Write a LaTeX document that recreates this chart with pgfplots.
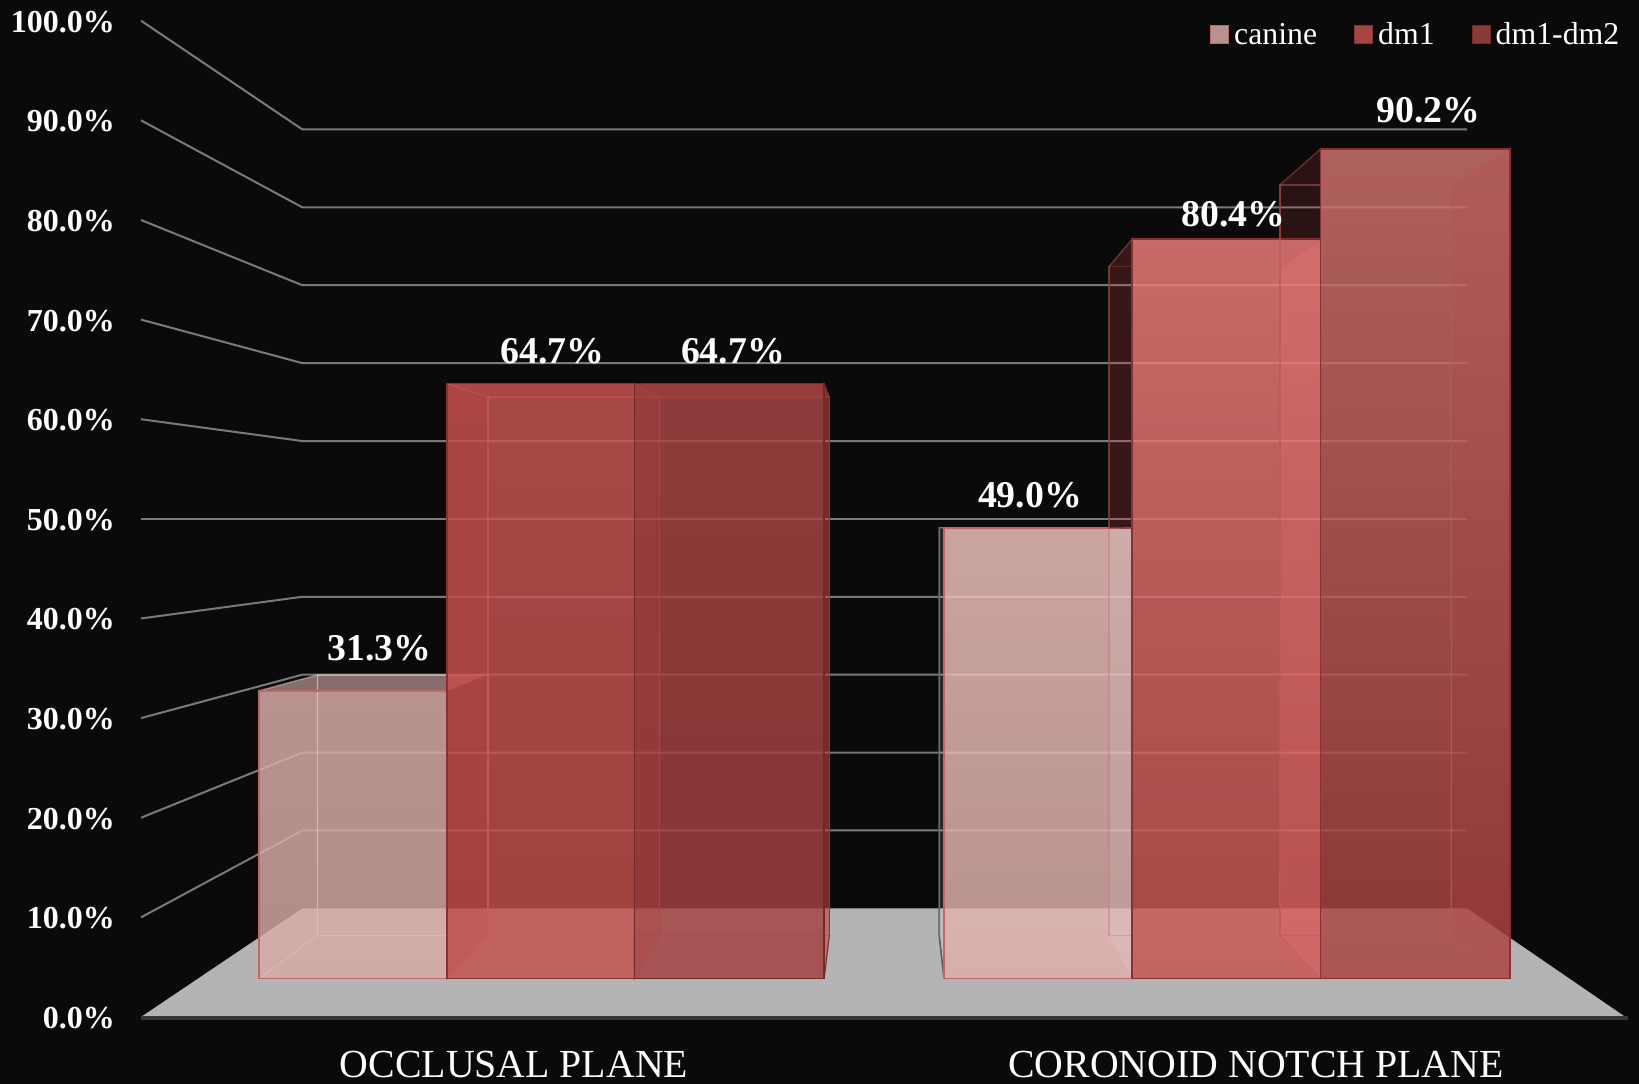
\documentclass[border=0pt]{standalone}
\usepackage{fontspec}
\setmainfont{Liberation Serif}
\usepackage{pgfplots}
\pgfplotsset{compat=1.18}
\definecolor{bg}{HTML}{0A0A0A}
\definecolor{floorc}{HTML}{B4B4B4}
\definecolor{gridc}{HTML}{7A7A7A}
% bar colours (before opacity)
\definecolor{atop}{RGB}{222,176,172}\definecolor{abot}{RGB}{216,170,166}\definecolor{aedge}{HTML}{C2666E}\definecolor{ain}{HTML}{E2C0BE}
\definecolor{btop}{RGB}{203,86,85}\definecolor{bbot}{RGB}{194,79,76}\definecolor{bedge}{HTML}{8A3034}\definecolor{bin}{HTML}{C85A5A}
\definecolor{ctop}{RGB}{171,71,69}\definecolor{cbot}{RGB}{163,65,63}\definecolor{cedge}{HTML}{6E2A2C}\definecolor{cin}{HTML}{A84A4A}
\definecolor{dtop}{RGB}{245,199,195}\definecolor{dbot}{RGB}{222,175,172}\definecolor{dedge}{HTML}{C2666E}\definecolor{din}{HTML}{D8B4B2}
\definecolor{etop}{RGB}{243,128,126}\definecolor{ebot}{RGB}{199,83,81}\definecolor{eedge}{HTML}{8A3034}\definecolor{ein}{HTML}{C85A5A}
\definecolor{ftop}{RGB}{212,117,112}\definecolor{fbot}{RGB}{167,66,63}\definecolor{fedge}{HTML}{8A3034}\definecolor{fin}{HTML}{B85A5A}
\definecolor{sidered}{HTML}{C04040}
% one polygon: rows are x, plane (0 front, 1 back), value
\newcommand\face[2]{\addplot[forget plot,#1] table[x=x,y expr={3.854+4.336*\thisrow{p}+(0.923-0.0879*\thisrow{p})*\thisrow{w}},row sep=\\]{x p w\\ #2} -- cycle;}
% front face: id, x0, x1, value
\newcommand\barfront[4]{\face{draw=none,top color=#1top,bottom color=#1bot,fill opacity=0.82}{#2 0 0\\ #3 0 0\\ #3 0 #4\\ #2 0 #4\\}}
\newcommand\frontedge[4]{\face{draw=#1edge,line width=1.7pt,fill=none}{#2 0 0\\ #3 0 0\\ #3 0 #4\\ #2 0 #4\\}}
% back face outline: opacity, id, bx0, bx1, value
\newcommand\barback[5]{\face{draw=#2in,line width=1.4pt,fill=none,draw opacity=#1}{#3 1 0\\ #4 1 0\\ #4 1 #5\\ #3 1 #5\\}}
% side face: options, back x, front x, value
\newcommand\sideface[4]{\face{#1}{#2 1 #4\\ #3 0 #4\\ #3 0 0\\ #2 1 0\\}}
\newcommand\topface[6]{\face{#1}{#2 0 #6\\ #3 0 #6\\ #5 1 #6\\ #4 1 #6\\}}
\newcommand\vlabel[3]{\node[text=white,font=\fontsize{37.8}{42}\selectfont\bfseries,inner sep=0pt] at (axis cs:#1,#2) {#3\%};}
\begin{document}
\begin{tikzpicture}[x=1pt,y=1pt]
\fill[bg] (0,0) rectangle (1639pt,1084pt);
\useasboundingbox (0,0) rectangle (1639pt,1084pt);
\begin{axis}[
  at={(141pt,67pt)},anchor=south west,
  scale only axis,width=1498pt,height=1017pt,
  xmin=141,xmax=1639,ymin=0,ymax=102.08,
  clip=false,
  axis line style={draw=none},
  major tick length=0pt,tick style={draw=none},
  axis x line*=bottom,axis y line*=left,
  xtick={514,1256},
  xticklabels={OCCLUSAL PLANE,CORONOID NOTCH PLANE},
  ytick={0,10,20,30,40,50,60,70,80,90,100},
  yticklabels={0.0\%,10.0\%,20.0\%,30.0\%,40.0\%,50.0\%,60.0\%,70.0\%,80.0\%,90.0\%,100.0\%},
  xticklabel style={font=\fontsize{39.8}{44}\selectfont,text=white,anchor=base,inner sep=0pt,yshift=-61pt},
  yticklabel style={font=\fontsize{32}{36}\selectfont\bfseries,text=white,anchor=east,inner sep=0pt,yshift=-1pt},
  y tick label style={xshift=-26pt},
  legend columns=3,
  legend style={at={(axis cs:1620.5,98.6)},anchor=east,draw=none,fill=none,inner sep=0pt,text=white,
    font=\fontsize{31.8}{36}\selectfont,
    nodes={inner sep=1pt},
    /tikz/every even column/.append style={column sep=36pt},
    /tikz/every odd column/.append style={column sep=4pt}},
]
\addlegendimage{legend image code/.code={\draw[draw=aedge,fill={rgb,255:red,184;green,146;blue,143},line width=1pt] (0pt,-9pt) rectangle (18pt,9pt);}}
\addlegendentry{canine}
\addlegendimage{legend image code/.code={\draw[draw=bedge,fill={rgb,255:red,165;green,70;blue,69},line width=1pt] (0pt,-9pt) rectangle (18pt,9pt);}}
\addlegendentry{dm1}
\addlegendimage{legend image code/.code={\draw[draw=cedge,fill={rgb,255:red,139;green,58;blue,56},line width=1pt] (0pt,-9pt) rectangle (18pt,9pt);}}
\addlegendentry{dm1-dm2}

% floor
\addplot[forget plot,draw=none,fill=floorc] coordinates {(141,0) (302.3,10.9) (1467,10.9) (1625.4,0)} -- cycle;
\addplot[forget plot,draw={rgb,255:red,56;green,56;blue,56},line width=3.2pt] coordinates {(141,-0.1) (1628,-0.1)};
% grid lines on the walls
\addplot[forget plot,draw=gridc,line width=2pt] coordinates {(141,10) (302.3,18.72) (1467,18.72)};
\addplot[forget plot,draw=gridc,line width=2pt] coordinates {(141,20) (302.3,26.54) (1467,26.54)};
\addplot[forget plot,draw=gridc,line width=2pt] coordinates {(141,30) (302.3,34.36) (1467,34.36)};
\addplot[forget plot,draw=gridc,line width=2pt] coordinates {(141,40) (302.3,42.18) (1467,42.18)};
\addplot[forget plot,draw=gridc,line width=2pt] coordinates {(141,50) (302.3,50.0) (1467,50.0)};
\addplot[forget plot,draw=gridc,line width=2pt] coordinates {(141,60) (302.3,57.81) (1467,57.81)};
\addplot[forget plot,draw=gridc,line width=2pt] coordinates {(141,70) (302.3,65.63) (1467,65.63)};
\addplot[forget plot,draw=gridc,line width=2pt] coordinates {(141,80) (302.3,73.45) (1467,73.45)};
\addplot[forget plot,draw=gridc,line width=2pt] coordinates {(141,90) (302.3,81.27) (1467,81.27)};
\addplot[forget plot,draw=gridc,line width=2pt] coordinates {(141,100) (302.3,89.09) (1467,89.09)};

% OCCLUSAL PLANE: canine 31.3
\topface{draw=none,fill={rgb,255:red,224;green,184;blue,182},fill opacity=0.58}{259}{447}{317.5}{488}{31.3}
\barfront{a}{259}{447}{31.3}
\sideface{draw=ain,line width=1.4pt,fill=none,draw opacity=0.5}{317.5}{259}{31.3}
\barback{0.6}{a}{317.5}{488}{31.3}
\frontedge{a}{259}{447}{31.3}
% OCCLUSAL PLANE: dm1 64.7
\barfront{b}{447}{634.4}{64.7}
\sideface{draw=bin,line width=1.4pt,fill=sidered,fill opacity=0.15,draw opacity=0.6}{488}{447}{64.7}
\topface{draw=none,fill=sidered,fill opacity=0.2}{447}{634.4}{488}{659.5}{64.7}
\barback{0.5}{b}{488}{659.5}{64.7}
\frontedge{b}{447}{634.4}{64.7}
% OCCLUSAL PLANE: dm1-dm2 64.7
\barfront{c}{634.4}{824.2}{64.7}
\sideface{draw=cin,line width=1.4pt,fill=sidered,fill opacity=0.2,draw opacity=0.5}{659.5}{634.4}{64.7}
\sideface{draw=cedge,line width=1pt,fill=sidered,fill opacity=0.6}{829.4}{824.2}{64.7}
\topface{draw=none,fill=sidered,fill opacity=0.2}{634.4}{824.2}{659.5}{829.4}{64.7}
\barback{0.5}{c}{659.5}{829.4}{64.7}
\frontedge{c}{634.4}{824.2}{64.7}

% CORONOID NOTCH PLANE: canine 49.0
\barfront{d}{944}{1132.2}{49.0}
\sideface{draw={rgb,255:red,100;green,90;blue,90},line width=1.6pt,fill=white,fill opacity=0.12}{939.2}{944}{49.0}
\sideface{draw=none,fill=white,fill opacity=0.08}{1109}{1132.2}{49.0}
\barback{0.2}{d}{939.2}{1109}{49.0}
\frontedge{d}{944}{1132.2}{49.0}
% CORONOID NOTCH PLANE: dm1 80.4
\face{draw={rgb,255:red,120;green,50;blue,50},line width=1.3pt,fill=sidered,fill opacity=0.25}{1109 1 80.4\\ 1132.2 0 80.4\\ 1132.2 0 49.0\\ 1109 1 49.0\\}
\barfront{e}{1132.2}{1320.5}{80.4}
\sideface{draw=ein,line width=1.2pt,fill={rgb,255:red,240;green,120;blue,120},fill opacity=0.22,draw opacity=0.5}{1280}{1320.5}{80.4}
\barback{0.3}{e}{1109}{1280}{80.4}
\frontedge{e}{1132.2}{1320.5}{80.4}
% CORONOID NOTCH PLANE: dm1-dm2 90.2
\face{draw={rgb,255:red,110;green,45;blue,45},line width=1.3pt,fill=sidered,fill opacity=0.18}{1280 1 90.2\\ 1320.5 0 90.2\\ 1320.5 0 80.4\\ 1280 0 80.4\\}
\barfront{f}{1320.5}{1509.9}{90.2}
\sideface{draw=fin,line width=1.3pt,fill=sidered,fill opacity=0.1,draw opacity=0.6}{1451.3}{1509.9}{90.2}
\barback{0.5}{f}{1280}{1451.3}{90.2}
\frontedge{f}{1320.5}{1509.9}{90.2}

% value labels
\vlabel{379.5}{37.04}{31.3}
\vlabel{552.5}{66.8}{64.7}
\vlabel{733}{66.8}{64.7}
\vlabel{1030}{52.4}{49.0}
\vlabel{1233.5}{80.6}{80.4}
\vlabel{1428.5}{90.98}{90.2}
\end{axis}
\end{tikzpicture}
\end{document}
